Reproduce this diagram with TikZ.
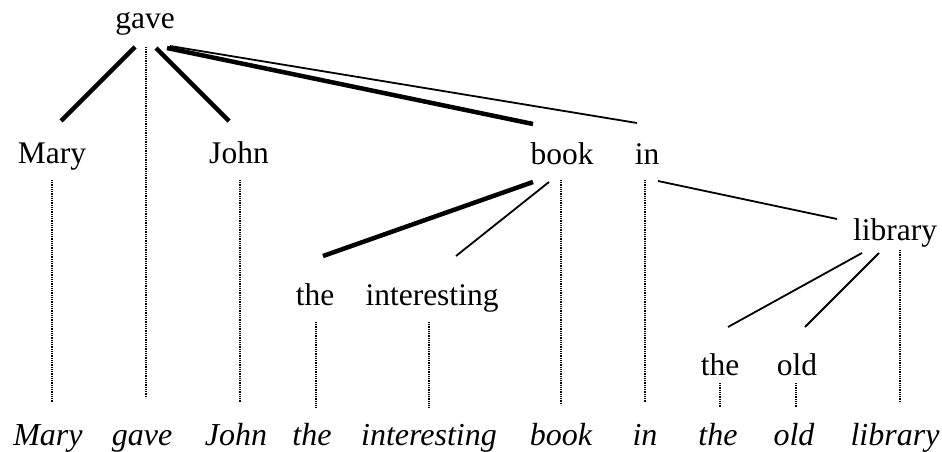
\documentclass[tikz,border=0pt]{standalone}
\usepackage{fontspec}
\setmainfont{Liberation Serif}

\begin{document}
\begin{tikzpicture}[x=1pt,y=-1pt,
        word/.style={font=\fontsize{31.5}{36}\selectfont, inner sep=0pt, anchor=base},
        gloss/.style={word, font=\fontsize{32}{36}\selectfont\itshape},
        strong/.style={line width=4.5pt},
        weak/.style={line width=1.8pt},
        proj/.style={line width=1.2pt, dash pattern=on 1pt off 0.8pt}]
        \useasboundingbox (0,0) rectangle (942,452);
        % tree
        \node[word] (gave) at (145,29) {gave};
        \node[word] (Mary) at (52,163) {Mary};
        \node[word] (John) at (239,163) {John};
        \node[word] (book) at (562,164) {book};
        \node[word] (in) at (647,164) {in};
        \node[word] (library) at (895,240) {library};
        \node[word] (the1) at (315,305) {the};
        \node[word] (interesting) at (432,305) {interesting};
        \node[word] (the2) at (720,375) {the};
        \node[word] (old) at (797,375) {old};
        % sentence
        \foreach \n/\x/\t in {wMary/48/Mary, wgave/142/gave, wJohn/236/John,
                wthe1/312/the, winteresting/429/interesting, wbook/561/book,
                win/645/in, wthe2/718/the, wold/794/old, wlibrary/895/library}
            \node[gloss] (\n) at (\x,445) {\t};
        \draw[strong] ([shift={(-10,18)}]gave.base) -- ([shift={(9,-42)}]Mary.base);
        \draw[strong] ([shift={(11,19)}]gave.base) -- ([shift={(-10,-42)}]John.base);
        \draw[strong] ([shift={(22,19)}]gave.base) -- ([shift={(-29,-40)}]book.base);
        \draw[weak] ([shift={(25,17)}]gave.base) -- ([shift={(-10,-41)}]in.base);
        \draw[strong] ([shift={(-29,18)}]book.base) -- ([shift={(8,-49)}]the1.base);
        \draw[weak] ([shift={(-13,18)}]book.base) -- ([shift={(24,-49)}]interesting.base);
        \draw[weak] ([shift={(11,17)}]in.base) -- ([shift={(-58,-21)}]library.base);
        \draw[weak] ([shift={(-33,13)}]library.base) -- ([shift={(8,-48)}]the2.base);
        \draw[weak] ([shift={(-16,13)}]library.base) -- ([shift={(8,-48)}]old.base);
        \foreach \a/\b/\d/\s/\e in {Mary/wMary/0/17/42, gave/wgave/1/18/47,
                John/wJohn/1/17/42, book/wbook/-1/16/40, in/win/-2/16/42,
                the1/wthe1/1/17/38, interesting/winteresting/-3/17/38,
                library/wlibrary/5/10/42, the2/wthe2/0/8/37, old/wold/-1/8/37}
            \draw[proj] ([shift={(\d,\s)}]\a.base) -- ([shift={(\d,-\e)}]\a.base |- \b.base);
    \end{tikzpicture}
\end{document}
